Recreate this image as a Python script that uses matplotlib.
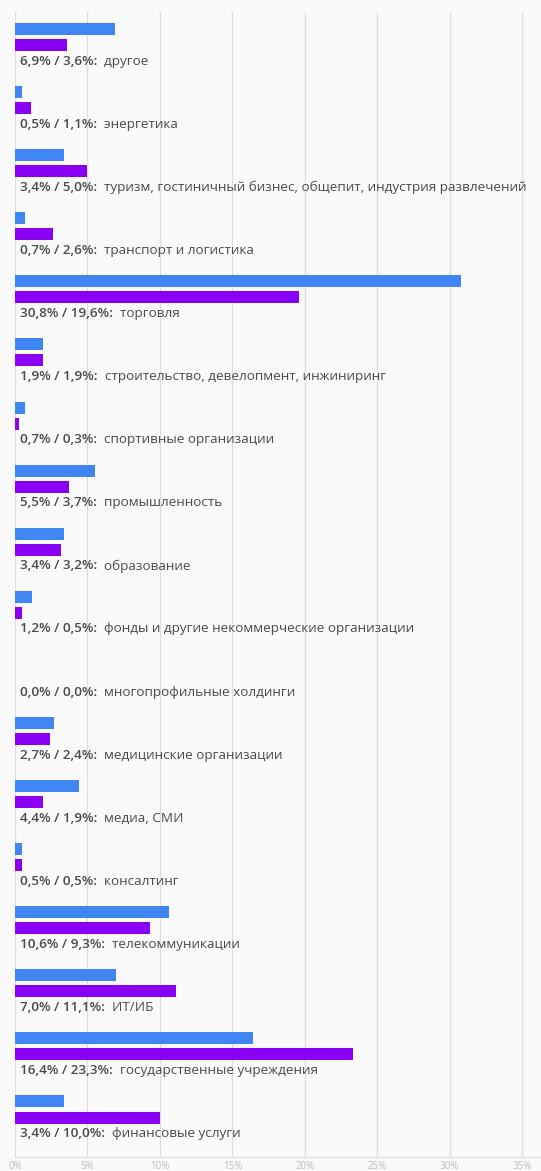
import numpy as np
import matplotlib.pyplot as plt

plt.rcParams['font.family'] = ['Open Sans', 'DejaVu Sans']

# отрасли (сверху вниз) и доли двух выборок, %
sectors = [
    "другое",
    "энергетика",
    "туризм, гостиничный бизнес, общепит, индустрия развлечений",
    "транспорт и логистика",
    "торговля",
    "строительство, девелопмент, инжиниринг",
    "спортивные организации",
    "промышленность",
    "образование",
    "фонды и другие некоммерческие организации",
    "многопрофильные холдинги",
    "медицинские организации",
    "медиа, СМИ",
    "консалтинг",
    "телекоммуникации",
    "ИТ/ИБ",
    "государственные учреждения",
    "финансовые услуги",
]
share_a = [6.9, 0.5, 3.4, 0.7, 30.8, 1.9, 0.7, 5.5, 3.4, 1.2, 0.0, 2.7, 4.4, 0.5, 10.6, 7.0, 16.4, 3.4]
share_b = [3.6, 1.1, 5.0, 2.6, 19.6, 1.9, 0.3, 3.7, 3.2, 0.5, 0.0, 2.4, 1.9, 0.5, 9.3, 11.1, 23.3, 10.0]
xticks = [0, 5, 10, 15, 20, 25, 30, 35]

bg = '#fafafa'
blue = '#3f86f4'
purple = '#8a00f5'
txt = '#4a4a4a'

fig = plt.figure(figsize=(5.41, 11.71), dpi=100, facecolor=bg)
ax = fig.add_axes([15 / 541, 14 / 1171, 1 - 15 / 541, 1145 / 1171], facecolor=bg)

y = np.arange(len(sectors))
h = 0.19
ax.barh(y, share_a, height=h, color=blue, zorder=3)
ax.barh(y + 0.254, share_b, height=h, color=purple, zorder=3)

fmt = lambda v: f"{v:.1f}%".replace('.', ',')
for i, name in enumerate(sectors):
    t = ax.text(0.35, i + 0.51, f"{fmt(share_a[i])} / {fmt(share_b[i])}:",
                fontsize=9.7, fontweight='semibold', color=txt, va='center', ha='left', zorder=4)
    ax.annotate("  " + name, xy=(1, 0.5), xycoords=t, va='center', ha='left',
                fontsize=9.7, color=txt, zorder=4)

ax.set_xlim(0, 36.3)
ax.set_ylim(17.88, -0.27)
ax.set_xticks(xticks)
ax.set_xticklabels([f"{v}%" for v in xticks], fontsize=7, color='#bbbbbb')
ax.tick_params(axis='x', length=0, pad=3)
ax.set_yticks([])
ax.grid(axis='x', color='#dddddd', linewidth=0.9, zorder=0)
for s in ['top', 'right', 'left']:
    ax.spines[s].set_visible(False)
ax.spines['bottom'].set_color('#dddddd')

fig.savefig('out.png', dpi=100, facecolor=bg)
